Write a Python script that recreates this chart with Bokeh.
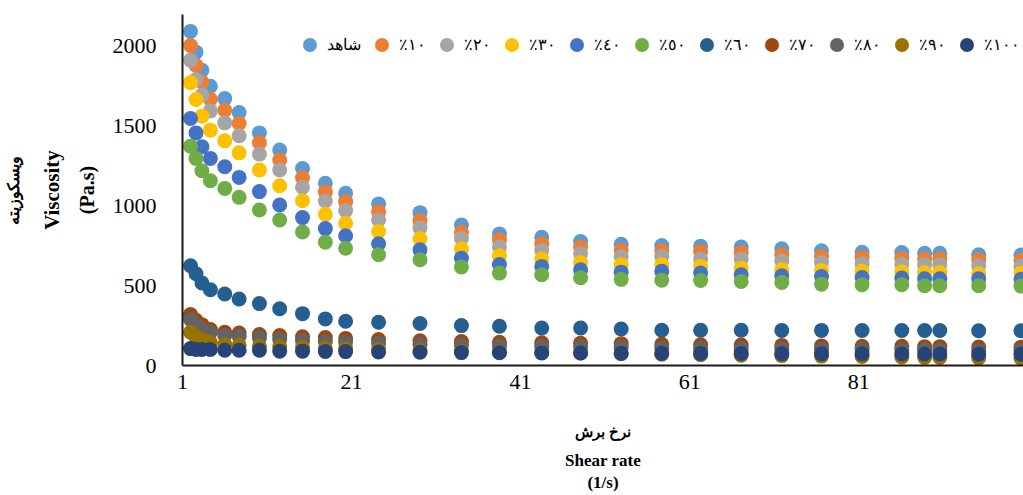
from bokeh.plotting import figure
from bokeh.models import LinearAxis, FixedTicker, Legend, LegendItem, Range1d
from bokeh.embed import file_html
from bokeh.resources import INLINE

# ---- data ----
shear_rate = [1.95, 2.6, 3.3, 4.3, 6.0, 7.7, 10.1, 12.5, 15.2, 17.9, 20.3, 24.2, 29.1, 34.0,
              38.5, 43.5, 48.1, 52.9, 57.7, 62.3, 67.1, 71.9, 76.6, 81.4, 86.1, 88.8, 90.6,
              95.2, 100.2]

series_labels = ["شاهد", "٪١٠", "٪٢٠", "٪٣٠", "٪٤٠", "٪٥٠", "٪٦٠", "٪٧٠", "٪٨٠", "٪٩٠", "٪١٠٠"]

visc_control = [2094, 1964, 1850, 1750, 1673, 1585, 1458, 1350, 1235, 1142, 1079, 1013, 958, 881, 825,
                804, 777, 760, 752, 748, 742, 731, 719, 710, 708, 704, 704, 694, 692]
visc_10 = [2006, 1881, 1777, 1669, 1600, 1517, 1396, 1288, 1177, 1088, 1027, 963, 908, 835, 788,
           762, 742, 721, 719, 715, 708, 694, 683, 677, 671, 667, 669, 663, 660]
visc_20 = [1913, 1792, 1694, 1596, 1521, 1440, 1325, 1225, 1117, 1031, 971, 913, 863, 796, 742,
           721, 700, 683, 683, 667, 667, 656, 646, 637, 635, 631, 631, 625, 622]
visc_30 = [1773, 1667, 1563, 1475, 1408, 1333, 1225, 1127, 1033, 948, 892, 840, 794, 731, 688,
           667, 646, 631, 631, 621, 610, 600, 596, 590, 587, 583, 583, 575, 578]
visc_40 = [1548, 1458, 1371, 1298, 1246, 1179, 1090, 1006, 927, 858, 813, 763, 725, 673, 633,
           621, 600, 585, 590, 579, 569, 562, 558, 552, 548, 544, 544, 544, 540]
visc_50 = [1375, 1298, 1221, 1158, 1110, 1054, 975, 912, 837, 773, 735, 694, 663, 617, 579,
           569, 550, 540, 535, 533, 527, 521, 510, 506, 506, 500, 500, 500, 498]
visc_60 = [625, 575, 517, 475, 448, 417, 388, 356, 325, 292, 277, 271, 263, 250, 246,
           235, 235, 229, 221, 221, 221, 220, 220, 219, 219, 219, 219, 218, 218]
visc_70 = [319, 283, 256, 225, 208, 204, 194, 188, 180, 175, 170, 163, 155, 150, 146,
           142, 140, 137, 133, 130, 128, 126, 123, 121, 120, 118, 118, 116, 115]
visc_80 = [288, 250, 225, 208, 188, 183, 173, 163, 155, 150, 146, 140, 133, 127, 123,
           119, 116, 113, 110, 108, 106, 104, 102, 100, 99, 98, 97, 96, 95]
visc_90 = [208, 179, 163, 146, 131, 127, 121, 117, 112, 108, 105, 100, 95, 90, 86,
           82, 78, 74, 71, 68, 65, 62, 59, 56, 53, 51, 50, 48, 46]
visc_100 = [106, 100, 100, 100, 96, 96, 96, 90, 90, 88, 87, 85, 83, 81, 80,
            79, 78, 77, 76, 75, 75, 74, 73, 73, 72, 72, 72, 71, 71]

x_ticks = [1, 21, 41, 61, 81]
y_ticks = [0, 500, 1000, 1500, 2000]

y_title_lines = ["ویسکوزیته", "Viscosity", "(Pa.s)"]
x_title_lines = ["نرخ برش", "Shear rate", "(1/s)"]

colors = ["#5B9BD5", "#ED7D31", "#A5A5A5", "#FFC000", "#4472C4", "#70AD47",
          "#255E91", "#9E480E", "#636363", "#997300", "#264478"]

all_series = [visc_control, visc_10, visc_20, visc_30, visc_40, visc_50,
              visc_60, visc_70, visc_80, visc_90, visc_100]

SERIF = "Liberation Serif"

p = figure(width=1023, height=495, output_backend="svg", toolbar_location=None,
           x_range=Range1d(1, 100.5), y_range=Range1d(0, 2200),
           x_axis_location=None, y_axis_location=None,
           min_border_left=182, min_border_right=0, min_border_top=14, min_border_bottom=129)
p.outline_line_color = None
p.background_fill_color = "white"
p.border_fill_color = "white"
p.grid.visible = False

items = []
for lab, ys, c in zip(series_labels, all_series, colors):
    r = p.scatter(shear_rate, ys, size=15, fill_color=c, line_color=None)
    items.append(LegendItem(label=lab, renderers=[r]))

legend = Legend(items=items, orientation="horizontal", location=(110, 303),
                glyph_width=35, glyph_height=35, label_standoff=-6, spacing=3,
                padding=0, margin=0, border_line_color=None, background_fill_alpha=0,
                label_text_font=SERIF, label_text_font_size="16px", label_text_color="#000000")
p.add_layout(legend)

def style_main(ax, standoff):
    ax.axis_line_color = "#1a1a1a"
    ax.axis_line_width = 2
    ax.major_tick_line_color = None
    ax.minor_tick_line_color = None
    ax.major_label_text_font = SERIF
    ax.major_label_text_font_size = "22px"
    ax.major_label_text_color = "#000000"
    ax.major_label_standoff = standoff
    ax.axis_label_text_font = SERIF
    ax.axis_label_text_font_style = "bold"
    ax.axis_label_text_color = "#000000"

def extra_axis(label, size, standoff):
    ax = LinearAxis(ticker=FixedTicker(ticks=[]), axis_label=label)
    ax.axis_line_color = None
    ax.major_tick_line_color = None
    ax.minor_tick_line_color = None
    ax.major_label_standoff = 0
    ax.major_tick_out = 0
    ax.axis_label_standoff = standoff
    ax.axis_label_text_font = SERIF
    ax.axis_label_text_font_style = "bold"
    ax.axis_label_text_font_size = size
    ax.axis_label_text_color = "#000000"
    return ax

# y axes (nearest to the frame first)
yax = LinearAxis(ticker=FixedTicker(ticks=y_ticks), axis_label=y_title_lines[2])
style_main(yax, 20)
yax.axis_label_text_font_size = "20px"
yax.axis_label_standoff = 12
p.add_layout(yax, "left")
p.add_layout(extra_axis(y_title_lines[1], "21px", 9), "left")
p.add_layout(extra_axis(y_title_lines[0], "16px", 15), "left")

# x axes (nearest to the frame first)
xax = LinearAxis(ticker=FixedTicker(ticks=x_ticks), axis_label=x_title_lines[0])
style_main(xax, 3)
xax.axis_label_text_font_size = "15px"
xax.axis_label_standoff = 32
p.add_layout(xax, "below")
eng = extra_axis(x_title_lines[1] + "\n" + x_title_lines[2], "17px", 8)
eng.axis_label_text_line_height = 1.2
p.add_layout(eng, "below")

open("out.html", "w").write(file_html(p, INLINE))
